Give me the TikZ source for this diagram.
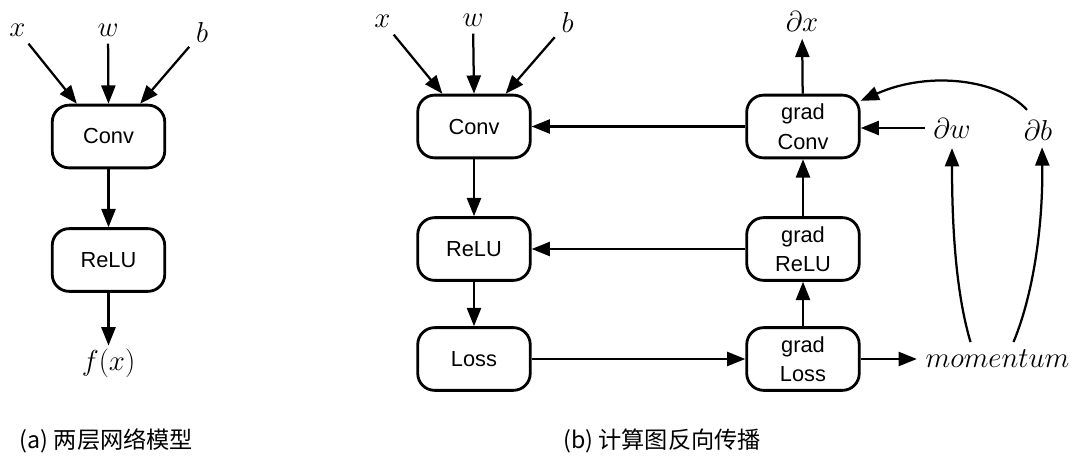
\RequirePackage{fix-cm}
\documentclass[tikz,border=0pt]{standalone}
\usepackage{fontspec}
\setsansfont{Liberation Sans}
\newfontfamily\cjkfont{Noto Sans CJK SC}
\usetikzlibrary{arrows.meta,calc}
\begin{document}
\begin{tikzpicture}[x=0.025cm,y=-0.025cm,
  box/.style={draw, line width=2pt, rounded corners=12pt, minimum width=80pt,
    minimum height=44.6pt, align=center, inner sep=0pt,
    font=\sffamily\fontsize{15.5}{21}\selectfont},
  lbl/.style={inner sep=2pt, font=\fontsize{20.5}{24}\selectfont},
  arr/.style={line width=1.6pt, -{Triangle[length=13pt,width=10pt]}},
  captxt/.style={font=\cjkfont\fontsize{16.5}{18}\selectfont, inner sep=0pt}]
\useasboundingbox (0,0) rectangle (1080,465);
% ---- (a) ----
\node[lbl] (lx) at (17.5,30) {$x$};
\node[lbl] (lw) at (108,30) {$w$};
\node[lbl] (lb) at (202,32) {$b$};
\node[box] (lconv) at (108.5,136.5) {Conv};
\node[box] (lrelu) at (108.5,260) {ReLU};
\node[lbl] (lfx) at (108.5,363) {$f(x)$};
\node[captxt] (capa) at (106.5,441) {(a) 两层网络模型};
\draw[arr, shorten <=4pt] (lx) -- (lconv.134);
\draw[arr, shorten <=3pt] (lw) -- (lconv.north);
\draw[arr, shorten <=4pt] (lb) -- (lconv.46);
\draw[arr] (lconv) -- (lrelu);
\draw[arr] (lrelu) -- (lfx);
% ---- (b) ----
\node[lbl] (rx) at (382.5,21) {$x$};
\node[lbl] (rw) at (473,20) {$w$};
\node[lbl] (rb) at (567.5,22.5) {$b$};
\node[box] (rconv) at (474,126.5) {Conv};
\node[box] (rrelu) at (474,249) {ReLU};
\node[box] (rloss) at (474,359) {Loss};
\node[box] (gconv) at (803,126.5) {grad\\Conv};
\node[box] (grelu) at (803,249) {grad\\ReLU};
\node[box] (gloss) at (803,359) {grad\\Loss};
\node[lbl] (dx) at (802,21.5) {$\partial x$};
\node[lbl] (dw) at (952,128) {$\partial w$};
\node[lbl] (db) at (1038,130) {$\partial b$};
\node[lbl] (mom) at (997.5,359) {$momentum$};
\node[captxt] (capb) at (662,441) {(b) 计算图反向传播};
\draw[arr, shorten <=4pt] (rx) -- (rconv.134);
\draw[arr, shorten <=3pt] (rw) -- (rconv.north);
\draw[arr, shorten <=4pt] (rb) -- (rconv.46);
\draw[arr] (rconv) -- (rrelu);
\draw[arr] (rrelu) -- (rloss);
\draw[arr] (rloss) -- (gloss);
\draw[arr] (gloss) -- (grelu);
\draw[arr] (grelu) -- (gconv);
\draw[arr] (grelu) -- (rrelu);
\draw[arr] (gconv) -- (rconv);
\draw[arr, shorten >=3pt] (gconv) -- (dx);
\draw[arr, shorten <=4pt] (dw.west) -- (gconv.east |- dw.west);
\draw[arr, shorten >=4pt] (gloss) -- (mom);
\draw[arr] ($(db.north)+(-11,-7)$) .. controls (1000,80) and (930,70) .. (gconv.24);
\draw[arr, shorten >=5pt] ($(mom.north)+(-27,-5)$) .. controls (955,290) and (952,220) .. (dw.south);
\draw[arr, shorten >=3pt] ($(mom.north)+(16,-5)$) .. controls (1035,290) and (1043,220) .. ($(db.south)+(4,0)$);
\end{tikzpicture}
\end{document}
